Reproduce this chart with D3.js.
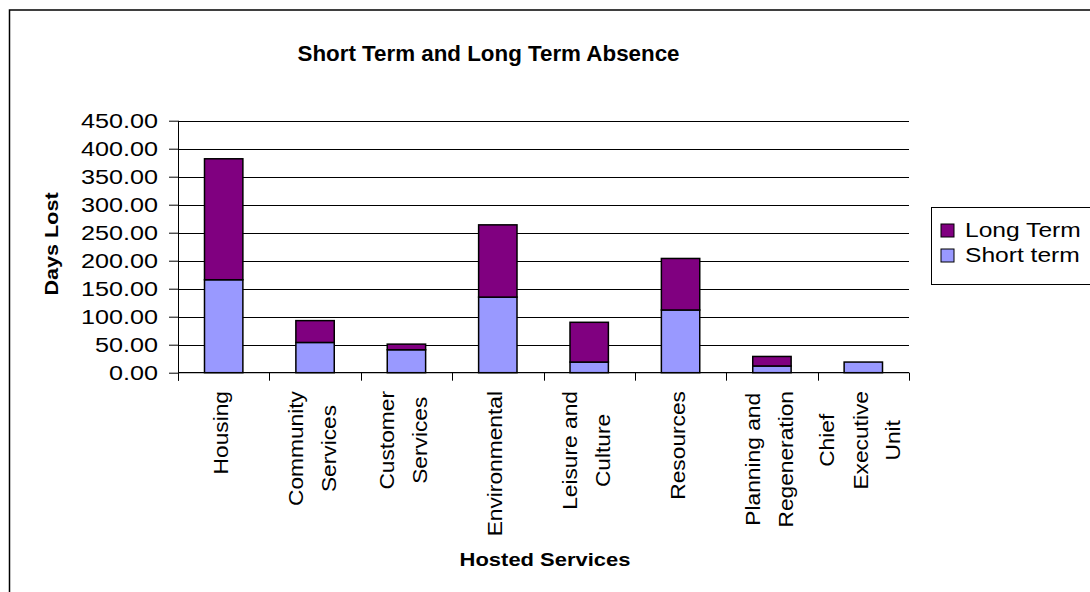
<!DOCTYPE html>
<html>
<head>
<meta charset="utf-8">
<script src="https://cdn.jsdelivr.net/npm/d3@7"></script>
<style>
  body { margin: 0; background: #fff; }
  svg { display: block; }
  text { font-family: "Liberation Sans", Arial, sans-serif; fill: #000; }
</style>
</head>
<body>
<svg id="chart" width="1090" height="592"></svg>
<script>
// Days lost per hosted service, split into short and long term absence
const categories = [
  "Housing",
  "Community\nServices",
  "Customer\nServices",
  "Environmental",
  "Leisure and\nCulture",
  "Resources",
  "Planning and\nRegeneration",
  "Chief\nExecutive\nUnit"
];
const shortTerm = [166, 54, 41, 135, 19, 112, 12, 19];
const longTerm  = [216, 39, 10, 129, 71, 92, 17, 0];
const yTicks = [0, 50, 100, 150, 200, 250, 300, 350, 400, 450];
const seriesNames = ["Long Term", "Short term"];

const colors = { short: "#9999FF", long: "#800080" };

const svg = d3.select("#chart");
const W = 1090, H = 592;
const plot = { left: 178, right: 909, top: 120.7, bottom: 372.7 };
const TEXT_STRETCH = 1.2;

// outer chart frame
svg.append("rect")
  .attr("x", 9.5).attr("y", 10)
  .attr("width", W + 20).attr("height", H + 20)
  .attr("fill", "#fff").attr("stroke", "#000").attr("stroke-width", 1.5);

const rows = categories.map((c, i) => ({ cat: c, short: shortTerm[i], long: longTerm[i] }));

const x = d3.scaleBand()
  .domain(categories)
  .range([plot.left, plot.right])
  .paddingInner(0.58)
  .paddingOuter(0.29);

const y = d3.scaleLinear()
  .domain([0, 450])
  .range([plot.bottom, plot.top]);

// horizontal gridlines
svg.append("g")
  .selectAll("line")
  .data(yTicks.filter(t => t > 0))
  .join("line")
  .attr("x1", plot.left).attr("x2", plot.right)
  .attr("y1", d => Math.round(y(d)) + 0.5).attr("y2", d => Math.round(y(d)) + 0.5)
  .attr("stroke", "#000").attr("stroke-width", 1);

// stacked bars
const stack = d3.stack().keys(["short", "long"]);
const layers = stack(rows);

svg.append("g")
  .selectAll("g")
  .data(layers)
  .join("g")
  .attr("fill", d => colors[d.key])
  .selectAll("rect")
  .data(d => d.filter(p => p[1] - p[0] > 0))
  .join("rect")
  .attr("x", d => x(d.data.cat))
  .attr("width", x.bandwidth())
  .attr("y", d => y(d[1]))
  .attr("height", d => y(d[0]) - y(d[1]))
  .attr("stroke", "#000")
  .attr("stroke-width", 1.5);

// y axis
const yAxis = svg.append("g")
  .attr("transform", `translate(${plot.left},0)`)
  .call(d3.axisLeft(y).tickValues(yTicks).tickSize(9).tickSizeOuter(0).tickFormat(d3.format(".2f")));
yAxis.select(".domain").remove();
yAxis.selectAll(".tick line").attr("stroke", "#000");
yAxis.selectAll(".tick text")
  .attr("x", null).attr("dy", null)
  .attr("transform", `translate(-20,7) scale(${TEXT_STRETCH},1)`)
  .attr("text-anchor", "end")
  .style("font-size", "21px")
  .style("font-family", '"Liberation Sans", Arial, sans-serif');

svg.append("line")
  .attr("x1", plot.left + 0.5).attr("x2", plot.left + 0.5)
  .attr("y1", plot.top).attr("y2", plot.bottom + 8)
  .attr("stroke", "#000");

// x axis baseline and category boundary ticks
svg.append("line")
  .attr("x1", plot.left).attr("x2", plot.right)
  .attr("y1", plot.bottom).attr("y2", plot.bottom)
  .attr("stroke", "#000").attr("stroke-width", 1.2);

const boundaries = d3.range(categories.length + 1).map(i => plot.left + i * x.step());
svg.append("g")
  .selectAll("line")
  .data(boundaries)
  .join("line")
  .attr("x1", d => Math.round(d) + 0.5).attr("x2", d => Math.round(d) + 0.5)
  .attr("y1", plot.bottom).attr("y2", plot.bottom + 8)
  .attr("stroke", "#000");

// rotated category labels, top aligned, lines centred in their block
const labelSize = 20.5, lineGap = 33;
const labelGroups = svg.append("g")
  .selectAll("g")
  .data(categories)
  .join("g")
  .attr("transform", d => `translate(${x(d) + x.bandwidth() / 2 - 3},391) rotate(-90) scale(1.11,1)`);

labelGroups.each(function (d) {
  const g = d3.select(this);
  const lines = d.split("\n");
  const texts = g.selectAll("text")
    .data(lines)
    .join("text")
    .attr("text-anchor", "middle")
    .attr("y", (l, i) => (i - (lines.length - 1) / 2) * lineGap)
    .attr("dy", "0.35em")
    .style("font-size", labelSize + "px")
    .text(l => l);
  const maxLen = d3.max(texts.nodes(), n => n.getComputedTextLength());
  texts.attr("x", -maxLen / 2);
});

// title
svg.append("text")
  .attr("transform", `translate(488.5,61) scale(1.04,1)`)
  .attr("text-anchor", "middle")
  .style("font-size", "21.5px").style("font-weight", "bold")
  .text("Short Term and Long Term Absence");

// axis titles
svg.append("text")
  .attr("transform", `translate(52,244) rotate(-90) scale(${TEXT_STRETCH},1)`)
  .attr("text-anchor", "middle").attr("dy", "0.35em")
  .style("font-size", "18px").style("font-weight", "bold")
  .text("Days Lost");

svg.append("text")
  .attr("transform", `translate(545,566) scale(1.22,1)`)
  .attr("text-anchor", "middle")
  .style("font-size", "18px").style("font-weight", "bold")
  .text("Hosted Services");

// legend
const legend = svg.append("g");
legend.append("rect")
  .attr("x", 931.5).attr("y", 207.5)
  .attr("width", 170).attr("height", 77)
  .attr("fill", "#fff").attr("stroke", "#000").attr("stroke-width", 1);

const legendColors = [colors.long, colors.short];
const items = legend.selectAll("g.item")
  .data(seriesNames)
  .join("g")
  .attr("class", "item")
  .attr("transform", (d, i) => `translate(941,${224 + i * 25})`);
items.append("rect")
  .attr("width", 13).attr("height", 13)
  .attr("fill", (d, i) => legendColors[i])
  .attr("stroke", "#000").attr("stroke-width", 1);
items.append("text")
  .attr("transform", `translate(24,12.5) scale(1.23,1)`)
  .style("font-size", "20px")
  .text(d => d);
</script>
</body>
</html>
